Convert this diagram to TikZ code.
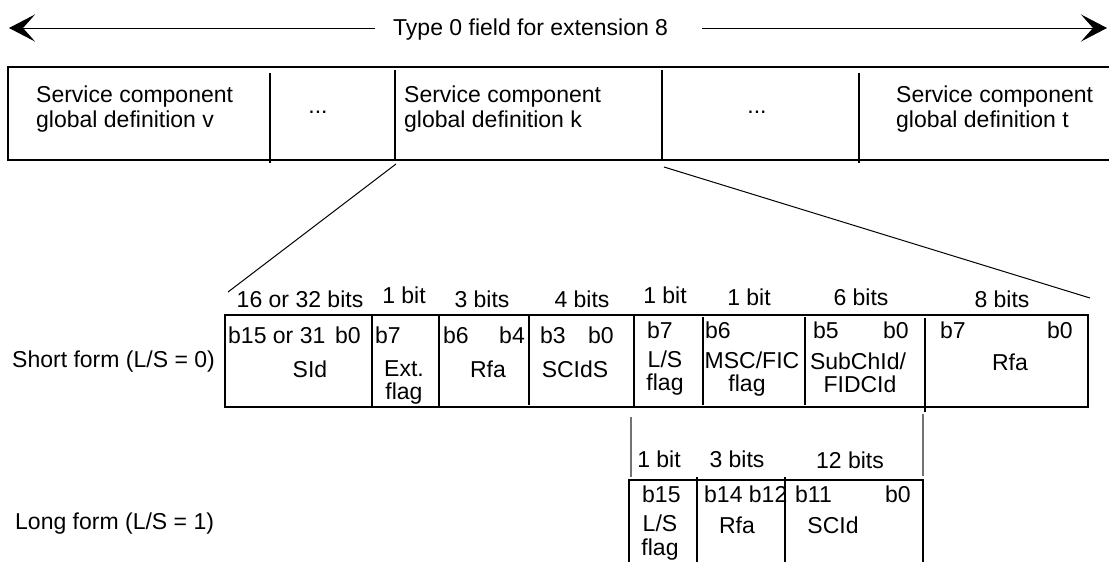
\documentclass[tikz,border=0pt]{standalone}
\usepackage{fontspec}
\setmainfont{Liberation Sans}
\usetikzlibrary{arrows.meta}
\begin{document}
\begin{tikzpicture}[x=1pt,y=-1pt,
  txt/.style={inner sep=0pt, font=\fontsize{23}{26}\selectfont},
  tl/.style={txt, anchor=base west},
  tc/.style={txt, anchor=base},
  tr/.style={txt, anchor=base east},
  boxline/.style={line width=2pt},
  thinline/.style={line width=1pt},
  greyline/.style={line width=1.3pt, draw=black!55},
  bigarrow/.style={thinline, -{Stealth[length=26pt,width=27pt,inset=12pt]}}]
\useasboundingbox (0,0) rectangle (1109,562);

% title and arrows
\node[tl] (title) at (393,35) {Type 0 field for extension 8};
\coordinate (la) at (375,28); \coordinate (lt) at (9,28);
\coordinate (ra) at (702,28); \coordinate (rt) at (1107,28);
\draw[bigarrow] (la) -- (lt);
\draw[bigarrow] (ra) -- (rt);

% top box
\draw[boxline] (1112,67) -- (8,67) -- (8,160) -- (1112,160);
\draw[boxline] (270,73) -- (270,163);
\draw[boxline] (395,70) -- (395,160);
\draw[boxline] (662,70) -- (662,160);
\draw[boxline] (859,73) -- (859,163);

\node[tl] (v1) at (36,102) {Service component};
\node[tl] (v2) at (36,127) {global definition v};
\node[tc] (dots1) at (318,113) {...};
\node[tl] (k1) at (404,102) {Service component};
\node[tl] (k2) at (404,127) {global definition k};
\node[tc] (dots2) at (757,113) {...};
\node[tl] (t1) at (896,102) {Service component};
\node[tl] (t2) at (896,127) {global definition t};

% zoom lines
\coordinate (kbl) at (396,164); \coordinate (sfl) at (228,292);
\coordinate (kbr) at (664,167); \coordinate (sfr) at (1090,298);
\draw[thinline] (kbl) -- (sfl);
\draw[thinline] (kbr) -- (sfr);

% short form
\node[tl] (short) at (12,367) {Short form (L/S = 0)};
\draw[boxline] (225,315) rectangle (1088,407);
\draw[boxline] (372,315) -- (372,407);
\draw[boxline] (439,315) -- (439,407);
\draw[boxline] (529,315) -- (529,405);
\draw[boxline] (634,315) -- (634,407);
\draw[boxline] (703,317) -- (703,405);
\draw[boxline] (805,317) -- (805,405);
\draw[boxline] (925,318) -- (925,412);

\node[tc] (s1) at (300,307) {16 or 32 bits};
\node[tc] (s2) at (404,303) {1 bit};
\node[tc] (s3) at (482,307) {3 bits};
\node[tc] (s4) at (582,307) {4 bits};
\node[tc] (s5) at (665,303) {1 bit};
\node[tc] (s6) at (749,305) {1 bit};
\node[tc] (s7) at (861,305) {6 bits};
\node[tc] (s8) at (1002,307) {8 bits};

\node[tl] (a1) at (228,343) {b15 or 31};
\node[tl] (a2) at (335,343) {b0};
\node[tc] (a3) at (310,377) {SId};
\node[tl] (b1) at (375,343) {b7};
\node[tc] (b2) at (404,376) {Ext.};
\node[tc] (b3) at (404,399) {flag};
\node[tl] (c1) at (443,343) {b6};
\node[tr] (c2) at (525,343) {b4};
\node[tc] (c3) at (488,377) {Rfa};
\node[tl] (d1) at (540,343) {b3};
\node[tl] (d2) at (588,343) {b0};
\node[tc] (d3) at (575,377) {SCIdS};
\node[tl] (e1) at (647,338) {b7};
\node[tc] (e2) at (665,367) {L/S};
\node[tc] (e3) at (665,390) {flag};
\node[tl] (f1) at (705,338) {b6};
\node[tc] (f2) at (752,368) {MSC/FIC};
\node[tc] (f3) at (747,391) {flag};
\node[tl] (g1) at (813,338) {b5};
\node[tl] (g2) at (883,338) {b0};
\node[tc] (g3) at (858,369) {SubChId/};
\node[tc] (g4) at (860,392) {FIDCId};
\node[tl] (h1) at (940,338) {b7};
\node[tl] (h2) at (1047,338) {b0};
\node[tc] (h3) at (1010,370) {Rfa};

% connectors to long form
\coordinate (cl1) at (631,417); \coordinate (cl2) at (631,477);
\coordinate (cr1) at (923,414); \coordinate (cr2) at (923,476);
\draw[greyline] (cl1) -- (cl2);
\draw[greyline] (cr1) -- (cr2);

% long form
\node[tl] (long) at (15,529) {Long form (L/S = 1)};
\draw[boxline] (629,566) -- (629,480) -- (923,480) -- (923,566);
\draw[boxline] (697,477) -- (697,566);
\draw[boxline] (785,477) -- (785,566);

\node[tc] (l1) at (659,467) {1 bit};
\node[tc] (l2) at (737,467) {3 bits};
\node[tc] (l3) at (850,468) {12 bits};
\node[tl] (m1) at (642,502) {b15};
\node[tl] (m2) at (704,502) {b14 b12};
\node[tl] (m3) at (795,502) {b11};
\node[tl] (m4) at (885,502) {b0};
\node[tc] (n1) at (660,531) {L/S};
\node[tc] (n2) at (660,555) {flag};
\node[tc] (n3) at (737,533) {Rfa};
\node[tc] (n4) at (833,533) {SCId};
\end{tikzpicture}
\end{document}
